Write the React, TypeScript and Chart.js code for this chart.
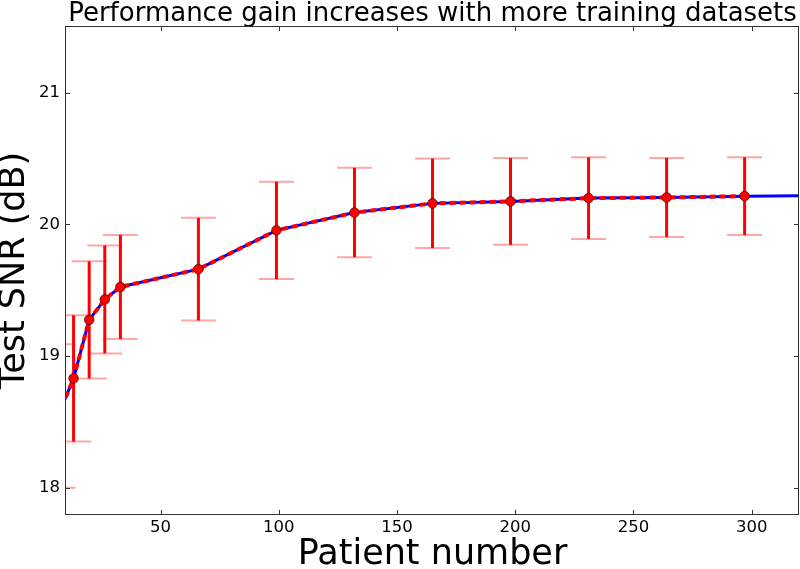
import React, { useEffect, useRef } from 'react';
import { Chart, registerables } from 'chart.js';

Chart.register(...registerables);

// Patient numbers used for training (red series with error bars)
const patients = [6.6, 13.2, 19.8, 26.4, 33, 66, 99, 132, 165, 198, 231, 264, 297];
const meanSNR = [18.545, 18.83, 19.275, 19.43, 19.525, 19.66, 19.955, 20.09, 20.16, 20.175, 20.2, 20.205, 20.215];
const errSNR = [0.545, 0.48, 0.445, 0.41, 0.395, 0.39, 0.37, 0.34, 0.34, 0.33, 0.31, 0.3, 0.295];

// Blue solid curve (extends to the full dataset)
const fullPatients = [6.6, 13.2, 19.8, 26.4, 33, 66, 99, 132, 165, 198, 231, 264, 297, 330];
const fullSNR = [18.545, 18.83, 19.275, 19.43, 19.525, 19.66, 19.955, 20.09, 20.16, 20.175, 20.2, 20.205, 20.215, 20.22];

const xTicks = [50, 100, 150, 200, 250, 300];
const yTicks = [18, 19, 20, 21];

const titleText = 'Performance gain increases with more training datasets';
const xLabel = 'Patient number';
const yLabel = 'Test SNR (dB)';

const FONT = "'DejaVu Sans', 'Liberation Sans', sans-serif";

const errorBarPlugin = {
  id: 'errorBars',
  beforeDatasetsDraw(chart: any) {
    const { ctx, chartArea, scales } = chart;
    const xs = scales.x;
    const ys = scales.y;
    ctx.save();
    ctx.beginPath();
    ctx.rect(chartArea.left, chartArea.top, chartArea.right - chartArea.left, chartArea.bottom - chartArea.top);
    ctx.clip();
    for (let i = 0; i < patients.length; i++) {
      const px = xs.getPixelForValue(patients[i]);
      const pTop = ys.getPixelForValue(meanSNR[i] + errSNR[i]);
      const pBot = ys.getPixelForValue(meanSNR[i] - errSNR[i]);
      ctx.strokeStyle = '#ff0000';
      ctx.lineWidth = 3;
      ctx.beginPath();
      ctx.moveTo(px, pTop);
      ctx.lineTo(px, pBot);
      ctx.stroke();
      ctx.strokeStyle = 'rgba(255,0,0,0.35)';
      ctx.lineWidth = 2;
      const hw = 17.5;
      ctx.beginPath();
      ctx.moveTo(px - hw, pTop);
      ctx.lineTo(px + hw, pTop);
      ctx.moveTo(px - hw, pBot);
      ctx.lineTo(px + hw, pBot);
      ctx.stroke();
    }
    ctx.restore();
  },
};

const framePlugin = {
  id: 'frameTicks',
  afterDraw(chart: any) {
    const { ctx, chartArea, scales } = chart;
    const { left, right, top, bottom } = chartArea;
    ctx.save();
    ctx.strokeStyle = '#333';
    ctx.lineWidth = 1;
    ctx.strokeRect(left - 0.5, top - 0.5, right - left, bottom - top + 1);
    ctx.beginPath();
    for (const v of xTicks) {
      const px = Math.round(scales.x.getPixelForValue(v)) + 0.5;
      ctx.moveTo(px, bottom);
      ctx.lineTo(px, bottom - 4);
      ctx.moveTo(px, top);
      ctx.lineTo(px, top + 4);
    }
    for (const v of yTicks) {
      const py = Math.round(scales.y.getPixelForValue(v)) + 0.5;
      ctx.moveTo(left, py);
      ctx.lineTo(left + 4, py);
      ctx.moveTo(right - 1, py);
      ctx.lineTo(right - 5, py);
    }
    ctx.stroke();
    ctx.restore();
  },
};

export default function App() {
  const ref = useRef<HTMLCanvasElement | null>(null);

  useEffect(() => {
    document.body.style.margin = '0';
    const canvas = ref.current;
    if (!canvas) return;
    Chart.defaults.font.family = FONT;
    Chart.defaults.color = '#000';

    const chart = new Chart(canvas, {
      type: 'line',
      data: {
        datasets: [
          {
            label: 'mean',
            data: patients.map((p, i) => ({ x: p, y: meanSNR[i] })),
            borderColor: '#ff0000',
            borderWidth: 4,
            borderDash: [6, 4],
            backgroundColor: '#ff0000',
            pointRadius: 4.8,
            pointBorderWidth: 1,
            pointBorderColor: 'rgba(60,0,0,0.7)',
            pointBackgroundColor: '#ff0000',
            tension: 0,
            clip: 0,
            order: 0,
          },
          {
            label: 'full',
            data: fullPatients.map((p, i) => ({ x: p, y: fullSNR[i] })),
            borderColor: '#0000ff',
            borderWidth: 3,
            pointRadius: 0,
            tension: 0,
            clip: 0,
            order: 1,
          },
        ],
      },
      options: {
        responsive: false,
        animation: false,
        devicePixelRatio: 1,
        layout: { autoPadding: false, padding: { left: 0, right: 1, top: 0, bottom: 0 } },
        plugins: {
          legend: { display: false },
          tooltip: { enabled: false },
          title: {
            display: true,
            text: titleText,
            fullSize: false,
            color: '#000',
            font: { family: FONT, size: 26, weight: 'normal', lineHeight: 1 },
            padding: { top: 1, bottom: 0 },
          },
        },
        scales: {
          x: {
            type: 'linear',
            min: 10,
            max: 320,
            grid: { display: false, drawTicks: false },
            border: { display: false },
            afterBuildTicks: (scale: any) => {
              scale.ticks = xTicks.map((v) => ({ value: v }));
            },
            afterFit: (scale: any) => {
              scale.height = 55;
            },
            ticks: {
              padding: 4,
              color: '#000',
              font: { family: FONT, size: 16.5 },
              maxRotation: 0,
              callback: (v: any) => String(v),
            },
            title: {
              display: true,
              text: xLabel,
              color: '#000',
              font: { family: FONT, size: 35, lineHeight: 0.8 },
              padding: 0,
            },
          },
          y: {
            type: 'linear',
            min: 17.8,
            max: 21.5,
            grid: { display: false, drawTicks: false },
            border: { display: false },
            afterBuildTicks: (scale: any) => {
              scale.ticks = yTicks.map((v) => ({ value: v }));
            },
            afterFit: (scale: any) => {
              scale.width = 66;
            },
            ticks: {
              padding: 6,
              color: '#000',
              font: { family: FONT, size: 16.5 },
              callback: (v: any) => String(v),
            },
            title: {
              display: true,
              text: yLabel,
              color: '#000',
              font: { family: FONT, size: 35, lineHeight: 0.857 },
              padding: 0,
            },
          },
        },
      },
      plugins: [errorBarPlugin, framePlugin],
    });
    return () => chart.destroy();
  }, []);

  return (
    <div style={{ width: 800, height: 569 }}>
      <canvas ref={ref} width={800} height={569} style={{ display: 'block', width: 800, height: 569 }} />
    </div>
  );
}
